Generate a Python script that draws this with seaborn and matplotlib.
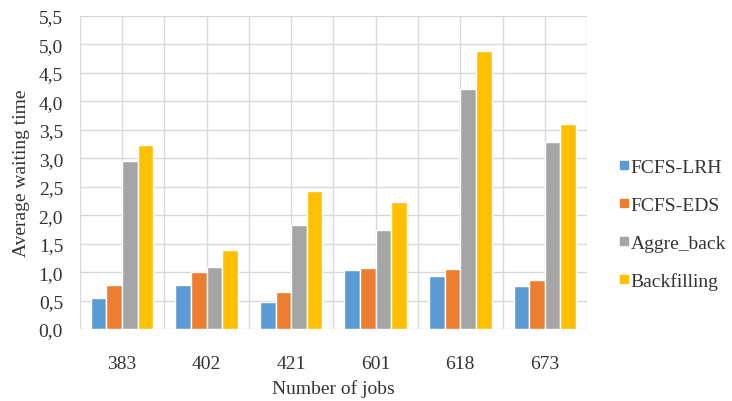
import pandas as pd
import matplotlib
matplotlib.use("Agg")
import matplotlib.pyplot as plt
from matplotlib.ticker import MultipleLocator, FuncFormatter
from matplotlib.lines import Line2D
import seaborn as sns

jobs = ["383", "402", "421", "601", "618", "673"]
methods = ["FCFS-LRH", "FCFS-EDS", "Aggre_back", "Backfilling"]
fcfs_lrh = [0.54, 0.77, 0.48, 1.03, 0.93, 0.76]
fcfs_eds = [0.77, 1.00, 0.65, 1.07, 1.05, 0.86]
aggre_back = [2.95, 1.09, 1.82, 1.74, 4.21, 3.28]
backfilling = [3.24, 1.39, 2.42, 2.24, 4.88, 3.60]
colors = ["#5B9BD5", "#ED7D31", "#A5A5A5", "#FFC000"]

sns.set_style("white")
plt.rcParams["font.family"] = ["Liberation Serif", "DejaVu Serif"]
text_col = "#333333"

rows = []
for m, vals in zip(methods, [fcfs_lrh, fcfs_eds, aggre_back, backfilling]):
    for j, v in zip(jobs, vals):
        rows.append({"jobs": j, "method": m, "time": v})
df = pd.DataFrame(rows)

fig = plt.figure(figsize=(7.32, 4.02), dpi=100)
ax = fig.add_axes([0.109, 0.179, 0.693, 0.779])

sns.barplot(data=df, x="jobs", y="time", hue="method", order=jobs,
            hue_order=methods, palette=colors, width=0.74, gap=0,
            saturation=1, legend=False, ax=ax, zorder=3)

ax.set_ylim(0, 5.5)
ax.set_xlim(-0.5, len(jobs) - 0.5)
ax.yaxis.set_major_locator(MultipleLocator(0.5))
ax.yaxis.set_major_formatter(FuncFormatter(lambda v, p: f"{v:.1f}".replace(".", ",")))
ax.xaxis.set_minor_locator(MultipleLocator(1, offset=0.5))

ax.grid(True, which="major", color="#d9d9d9", linewidth=1, zorder=0)
ax.grid(True, which="minor", axis="x", color="#d9d9d9", linewidth=1, zorder=0)
ax.set_axisbelow(True)
for s in ax.spines.values():
    s.set_visible(False)

ax.tick_params(axis="both", which="both", length=0, labelsize=14, colors=text_col)
ax.tick_params(axis="x", pad=19)
ax.tick_params(axis="y", pad=12)

ax.set_xlabel("Number of jobs", fontsize=14, color=text_col, labelpad=5)
ax.set_ylabel("Average waiting time", fontsize=14, color=text_col, labelpad=6)

handles = [Line2D([], [], marker="s", linestyle="", markersize=6,
                  markerfacecolor=c, markeredgecolor=c) for c in colors]
fig.legend(handles, methods, loc="center left", bbox_to_anchor=(0.822, 0.44),
           frameon=False, fontsize=14, labelspacing=1.05, handlelength=0.5,
           handletextpad=0.1, labelcolor=text_col)

fig.savefig("out.png", dpi=100)
